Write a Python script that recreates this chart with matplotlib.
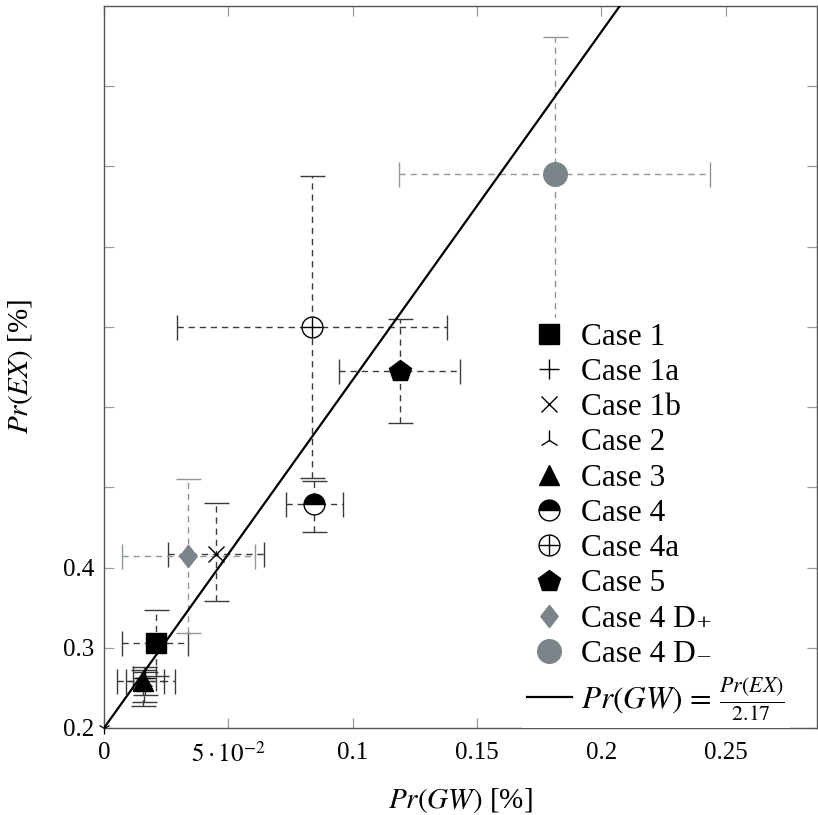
import matplotlib
matplotlib.use("Agg")
import matplotlib.pyplot as plt
from matplotlib.legend_handler import HandlerTuple
from matplotlib.ticker import FixedLocator, FixedFormatter

plt.rcParams['font.family'] = ['Liberation Serif', 'DejaVu Serif']
plt.rcParams['mathtext.fontset'] = 'stix'

# ---- data ----
labels = ['Case 1', 'Case 1a', 'Case 1b', 'Case 2', 'Case 3', 'Case 4',
          'Case 4a', 'Case 5', 'Case 4 D\u208a', 'Case 4 D\u208b']
gw = [0.0209, 0.0165, 0.0449, 0.0160, 0.0158, 0.0845, 0.0837, 0.1189, 0.0339, 0.1812]
ex = [0.306, 0.262, 0.4166, 0.258, 0.259, 0.4795, 0.7004, 0.645, 0.4145, 0.8904]
gw_lo = [0.0071, 0.0116, 0.0258, 0.0090, 0.0051, 0.0731, 0.0292, 0.0945, 0.0071, 0.1186]
gw_hi = [0.0339, 0.0209, 0.0644, 0.0240, 0.0285, 0.0960, 0.1380, 0.1430, 0.0609, 0.2438]
ex_lo = [0.265, 0.241, 0.3587, 0.232, 0.2274, 0.4445, 0.5113, 0.580, 0.3185, 0.709]
ex_hi = [0.347, 0.270, 0.4802, 0.276, 0.2723, 0.5085, 0.8887, 0.710, 0.5105, 1.0616]
is_gray = [False, False, False, False, False, False, False, False, True, True]

line_gw = [0.0, 0.2074]
line_ex = [0.2, 1.1]
line_label = r'$Pr(GW)\,=\,\frac{Pr(EX)}{2.17}$'

xticks = [0, 0.05, 0.1, 0.15, 0.2, 0.25]
xticklabels = ['0', r'$5\cdot10^{-2}$', '0.1', '0.15', '0.2', '0.25']
yticks = [0.2, 0.3, 0.4, 0.5, 0.6, 0.7, 0.8, 0.9, 1.0]
yticklabels = ['0.2', '0.3', '0.4', '', '', '', '', '', '']

# ---- styles ----
BLACK = '#000000'
GRAY = '#7b8488'
EB_BLACK = '#3a3a3a'
EB_GRAY = '#8e979b'
DIAMOND = [(0, 1), (0.78, 0), (0, -1), (-0.78, 0), (0, 1)]

fig = plt.figure(figsize=(8.18, 8.15), dpi=100)
ax = fig.add_axes([104/818, 87/815, 713/818, 722/815])

for i in range(len(gw)):
    col = EB_GRAY if is_gray[i] else EB_BLACK
    eb = ax.errorbar([gw[i]], [ex[i]],
                     xerr=[[gw[i] - gw_lo[i]], [gw_hi[i] - gw[i]]],
                     yerr=[[ex[i] - ex_lo[i]], [ex_hi[i] - ex[i]]],
                     fmt='none', ecolor=col, elinewidth=1.0, capsize=9,
                     capthick=1.0, zorder=2)
    for lc in eb[2]:
        lc.set_linestyle((0, (4.5, 3.5)))

handles = []
h, = ax.plot(gw[0], ex[0], 's', color=BLACK, ms=15, zorder=4)
handles.append(h)
h, = ax.plot(gw[1], ex[1], '+', color=BLACK, ms=14, mew=1.0, zorder=4)
handles.append(h)
h, = ax.plot(gw[2], ex[2], 'x', color=BLACK, ms=12, mew=1.0, zorder=4)
handles.append(h)
h, = ax.plot(gw[3], ex[3], '2', color=BLACK, ms=14, mew=1.0, zorder=4)
handles.append(h)
h, = ax.plot(gw[4], ex[4], '^', color=BLACK, ms=14, zorder=4)
handles.append(h)
h, = ax.plot(gw[5], ex[5], 'o', color=BLACK, ms=15, fillstyle='top',
             markerfacecoloralt='white', markeredgecolor=BLACK, mew=1.0, zorder=4)
handles.append(h)
h1, = ax.plot(gw[6], ex[6], 'o', mfc='white', mec=BLACK, ms=15, mew=1.0, zorder=4)
h2, = ax.plot(gw[6], ex[6], '+', color=BLACK, ms=15, mew=1.0, zorder=5)
handles.append((h1, h2))
h, = ax.plot(gw[7], ex[7], 'p', color=BLACK, ms=16, zorder=4)
handles.append(h)
h, = ax.plot(gw[8], ex[8], marker=DIAMOND, ls='none', color=GRAY, ms=16, zorder=4)
handles.append(h)
h, = ax.plot(gw[9], ex[9], 'o', color=GRAY, ms=17, zorder=4)
handles.append(h)

hl, = ax.plot(line_gw, line_ex, '-', color=BLACK, lw=1.6, zorder=3)
ax.plot(line_gw[:1], line_ex[:1], '1', color=BLACK, ms=9, mew=0.9,
        zorder=3, clip_on=False)
handles.append(hl)

leg = ax.legend(handles, labels + [line_label],
                handler_map={tuple: HandlerTuple(ndivide=1)},
                loc='upper left', bbox_to_anchor=(522/818, 1 - 318/815),
                bbox_transform=fig.transFigure,
                fontsize=22.5, frameon=True, fancybox=False, edgecolor='none',
                facecolor='white', framealpha=1.0, borderpad=0.15,
                labelspacing=0.2, handlelength=1.45, handletextpad=0.3,
                borderaxespad=0.0)

ax.set_xlim(0, 0.2867)
ax.set_ylim(0.2, 1.1)
ax.xaxis.set_major_locator(FixedLocator(xticks))
ax.xaxis.set_major_formatter(FixedFormatter(xticklabels))
ax.yaxis.set_major_locator(FixedLocator(yticks))
ax.yaxis.set_major_formatter(FixedFormatter(yticklabels))
ax.tick_params(direction='in', length=7, width=0.9, color='#9a9a9a',
               top=True, right=True, labelsize=18)
ax.tick_params(axis='x', pad=10)
ax.tick_params(axis='y', pad=7)
for s in ax.spines.values():
    s.set_color('#555555')
    s.set_linewidth(1.0)

ax.set_xlabel(r'$Pr(GW)$ [%]', fontsize=21, labelpad=14)
ax.set_ylabel(r'$Pr(EX)$ [%]', fontsize=21, labelpad=20)

fig.savefig('out.png', dpi=100)
